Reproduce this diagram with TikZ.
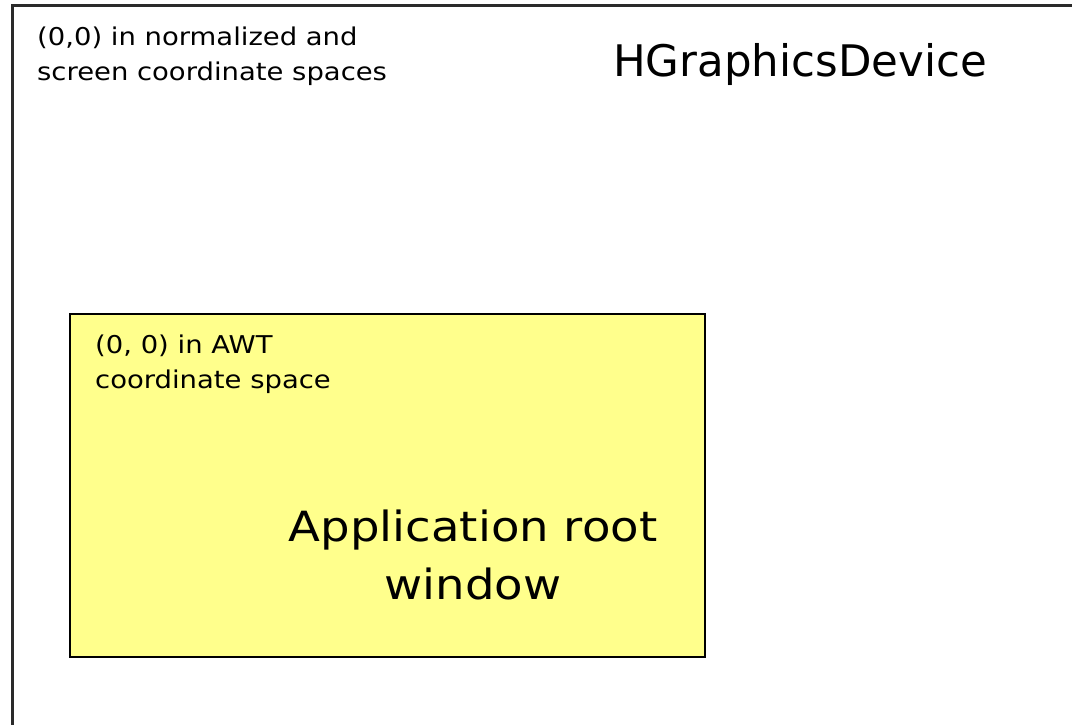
\documentclass[tikz,border=0pt]{standalone}
\usepackage{fontspec}
\setmainfont{DejaVu Sans}
% a slightly widened face for the labels, a plain one for the device title
\newfontfamily\labelface[FakeStretch=1.12]{DejaVu Sans}
\newfontfamily\titleface{DejaVu Sans}
\definecolor{rootfill}{HTML}{FFFF8C}
\definecolor{framegray}{HTML}{2A2A2A}
\begin{document}
\begin{tikzpicture}[x=1pt,y=-1pt,
  small label/.style={inner sep=0pt, anchor=north west, align=left,
    font=\labelface\fontsize{24.5}{35}\selectfont},
  big label/.style={inner sep=0pt, anchor=north, align=center,
    font=\labelface\fontsize{41.6}{58}\selectfont},
  rootbox/.style={draw=black, line width=1.8pt, fill=rootfill,
    inner sep=0pt, anchor=north west}]
  \useasboundingbox (0,0) rectangle (1072,725);
  \fill[white] (0,0) rectangle (1072,725);

  % screen edge of the graphics device (top and left sides)
  \coordinate (devBL) at (12.5,725);
  \coordinate (devTL) at (12.5,5.5);
  \coordinate (devTR) at (1072,5.5);
  \draw[framegray, line width=2.2pt] (devBL) -- (devTL) -- (devTR);

  \node[small label] (origin) at (37,26.5)
    {(0,0) in normalized and\\screen coordinate spaces};
  \node[inner sep=0pt, anchor=base west,
        font=\titleface\fontsize{43.5}{50}\selectfont] (device) at (613,77)
    {HGraphicsDevice};

  % application root window
  \node[rootbox, minimum width=635pt, minimum height=343pt] (root) at (69,313) {};
  \node[small label] (awt) at (95,334.5)
    {(0, 0) in AWT\\coordinate space};
  \node[big label] (title) at (473,510) {Application root\\window};
\end{tikzpicture}
\end{document}
